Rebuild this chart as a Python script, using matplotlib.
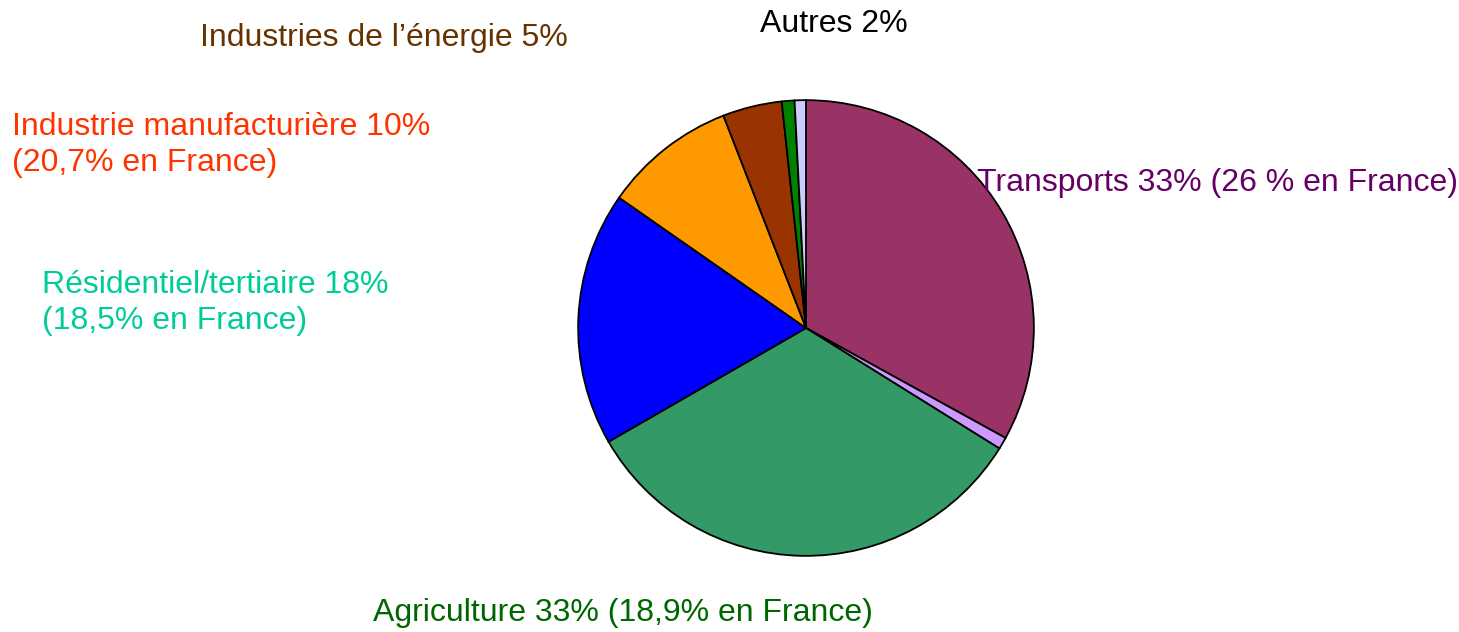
import matplotlib.pyplot as plt

# Emissions share by sector (slices clockwise from 12 o'clock)
sectors = ["Transports", "Autres (a)", "Agriculture", "Résidentiel/tertiaire",
           "Industrie manufacturière", "Industries de l'énergie", "Autres (b)", "Autres (c)"]
shares = [33.0, 0.85, 32.8, 18.0, 9.4, 4.2, 0.9, 0.8]
slice_colors = ['#993366', '#CC99FF', '#339966', '#0000FF',
                '#FF9900', '#993300', '#008000', '#CCCCFF']

label_lines = [
    ["Industries de l\u2019énergie 5%"],
    ["Autres 2%"],
    ["Industrie manufacturière 10%", "(20,7% en France)"],
    ["Transports 33% (26 % en France)"],
    ["Résidentiel/tertiaire 18%", "(18,5% en France)"],
    ["Agriculture 33% (18,9% en France)"],
]
label_colors = ['#663300', '#000000', '#FF3300', '#660066', '#00CC99', '#006600']

W, H = 1459, 632
fig = plt.figure(figsize=(W / 100, H / 100), dpi=100)
plt.rcParams['font.family'] = ['Liberation Sans', 'DejaVu Sans']

# pie placed in pixel space: center (806, 328), radius 228
cx, cy, r = 806, 328, 229
ax = fig.add_axes([(cx - r) / W, (H - cy - r) / H, 2 * r / W, 2 * r / H])
ax.pie(shares, colors=slice_colors, startangle=90, counterclock=False,
       radius=1, wedgeprops=dict(edgecolor='black', linewidth=1.3))
ax.set_xlim(-1.005, 1.005)
ax.set_ylim(-1.005, 1.005)
ax.set_aspect('equal')
ax.axis('off')

# label anchors (left x, first-line center y) in pixels
anchors = [(200, 38), (760, 24), (12, 127), (977, 183), (42, 285), (373, 613)]
line_gap = 36
for lines, col, (x, y) in zip(label_lines, label_colors, anchors):
    for i, line in enumerate(lines):
        fig.text(x / W, 1 - (y + i * line_gap) / H, line, color=col,
                 fontsize=23, ha='left', va='center')

fig.savefig('out.png', dpi=100)
